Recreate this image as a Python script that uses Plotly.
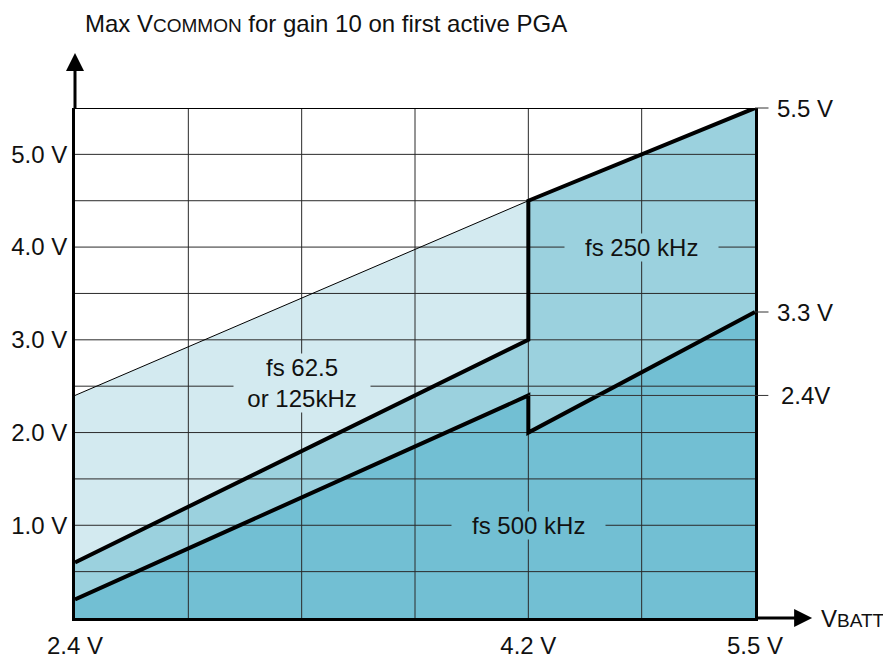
import plotly.graph_objects as go

# 横轴为示意刻度：按网格格数排布，2.4 V 在第 0 格，4.2 V 在第 4 格，5.5 V 在第 6 格
vbatt_pos = [0, 4, 6]
vbatt_labels = ["2.4 V", "4.2 V", "5.5 V"]
grid_x = [0, 1, 2, 3, 4, 5, 6]
grid_y = [0.0, 0.5, 1.0, 1.5, 2.0, 2.5, 3.0, 3.5, 4.0, 4.5, 5.0, 5.5]
vcommon_ticks = [1.0, 2.0, 3.0, 4.0, 5.0]

# 各采样率下的最大 VCOMMON 边界
fs125_x = [0, 4, 6]
fs125_y = [2.4, 4.5, 5.5]
fs250_x = [0, 4, 4, 6]
fs250_y = [0.6, 3.0, 4.5, 5.5]
fs500_x = [0, 4, 4, 6]
fs500_y = [0.2, 2.4, 2.0, 3.3]

# 右侧标注
marker_vals = [5.5, 3.3, 2.4]
marker_labels = ["5.5 V", "3.3 V", "2.4V"]

FONT = "Liberation Sans, Arial, sans-serif"
FS = 24
C_LIGHT = "#d3eaf0"
C_MID = "#9bd1de"
C_DARK = "#72bfd3"

fig = go.Figure()

# 填充区域
for xs, ys, color in [
    (fs125_x, fs125_y, C_LIGHT),
    (fs250_x, fs250_y, C_MID),
    (fs500_x, fs500_y, C_DARK),
]:
    fig.add_trace(
        go.Scatter(
            x=xs, y=ys, mode="lines", fill="tozeroy", fillcolor=color,
            line=dict(width=0, color=color), hoverinfo="skip", showlegend=False,
        )
    )

# 网格（画在填充之上）
gx, gy = [], []
for v in grid_x[1:-1]:
    gx += [v, v, None]
    gy += [grid_y[0], grid_y[-1], None]
for v in grid_y[1:-1]:
    gx += [grid_x[0], grid_x[-1], None]
    gy += [v, v, None]
fig.add_trace(
    go.Scatter(x=gx, y=gy, mode="lines", line=dict(color="#2a2a2a", width=1),
               hoverinfo="skip", showlegend=False)
)
# 顶边
fig.add_trace(
    go.Scatter(x=[grid_x[0], grid_x[-1]], y=[grid_y[-1], grid_y[-1]], mode="lines",
               line=dict(color="black", width=2), cliponaxis=False,
               hoverinfo="skip", showlegend=False)
)

# 边界线
fig.add_trace(
    go.Scatter(x=fs125_x[:2], y=fs125_y[:2], mode="lines",
               line=dict(color="black", width=1), hoverinfo="skip", showlegend=False)
)
for xs, ys in [(fs250_x, fs250_y), (fs500_x, fs500_y)]:
    fig.add_trace(
        go.Scatter(x=xs, y=ys, mode="lines", line=dict(color="black", width=4),
                   cliponaxis=False, hoverinfo="skip", showlegend=False)
    )

annotations = []
# 区域文字，背景色与填充一致以遮住网格线
for text, x, y, bg, pad in [
    ("fs 62.5<br>or 125kHz", 2, 2.53, C_LIGHT, "\u00a0\u00a0"),
    ("fs 250 kHz", 5, 4.0, C_MID, "\u00a0\u00a0\u00a0"),
    ("fs 500 kHz", 4, 1.0, C_DARK, "\u00a0\u00a0\u00a0"),
]:
    annotations.append(dict(
        x=x, y=y, xref="x", yref="y", showarrow=False,
        text=pad + text.replace("<br>", pad + "<br>" + pad) + pad,
        bgcolor=bg, borderpad=0, font=dict(size=FS, color="#111"),
    ))

# 右侧数值标注（带引线）
for val, label, x0, ax, bp in zip(marker_vals, marker_labels, [6, 6, 4], [50, 50, 277], [8, 8, 12]):
    annotations.append(dict(
        x=x0, y=val, xref="x", yref="y", text=label, showarrow=True,
        arrowhead=0, arrowwidth=1, arrowcolor="#333", ax=ax, ay=0,
        borderpad=bp, font=dict(size=FS, color="#111"),
    ))

# 坐标轴箭头
annotations.append(dict(
    x=0, y=1.108, xref="paper", yref="paper", text="", showarrow=True,
    arrowhead=2, arrowsize=1.2, arrowwidth=3, arrowcolor="black", ax=0, ay=57,
))
annotations.append(dict(
    x=1.084, y=0, xref="paper", yref="paper", text="", showarrow=True,
    arrowhead=2, arrowsize=1.2, arrowwidth=3, arrowcolor="black", ax=-57, ay=0,
))

# 标题与横轴名称
annotations.append(dict(
    x=0.013, y=1.195, xref="paper", yref="paper", xanchor="left", yanchor="top",
    text="Max V<span style='font-size:19px'>COMMON</span> for gain 10 on first active PGA",
    showarrow=False, borderpad=0, font=dict(size=FS, color="#111"),
))
annotations.append(dict(
    x=1.094, y=0, xref="paper", yref="paper", xanchor="left", yanchor="middle",
    text="V<span style='font-size:19px'>BATT</span>",
    showarrow=False, font=dict(size=FS, color="#111"),
))

# 页面 body 自带 8px 边距，整体尺寸与边距相应扣除
fig.update_layout(
    width=883,
    height=651,
    margin=dict(l=67, r=136, t=100, b=41),
    paper_bgcolor="white",
    plot_bgcolor="white",
    font=dict(family=FONT, size=FS, color="#111"),
    showlegend=False,
    hovermode=False,
    annotations=annotations,
    xaxis=dict(
        range=[grid_x[0], grid_x[-1]],
        tickvals=vbatt_pos,
        ticktext=vbatt_labels,
        showgrid=False, zeroline=False,
        showline=True, linecolor="black", linewidth=3,
        ticks="", ticklabelstandoff=4, automargin=False,
    ),
    yaxis=dict(
        range=[grid_y[0], grid_y[-1]],
        tickvals=vcommon_ticks,
        ticktext=[f"{v:.1f} V" for v in vcommon_ticks],
        showgrid=False, zeroline=False,
        showline=True, linecolor="black", linewidth=3, mirror=True,
        ticks="", ticklabelstandoff=0, automargin=False,
    ),
)

fig.write_html("out.html")
